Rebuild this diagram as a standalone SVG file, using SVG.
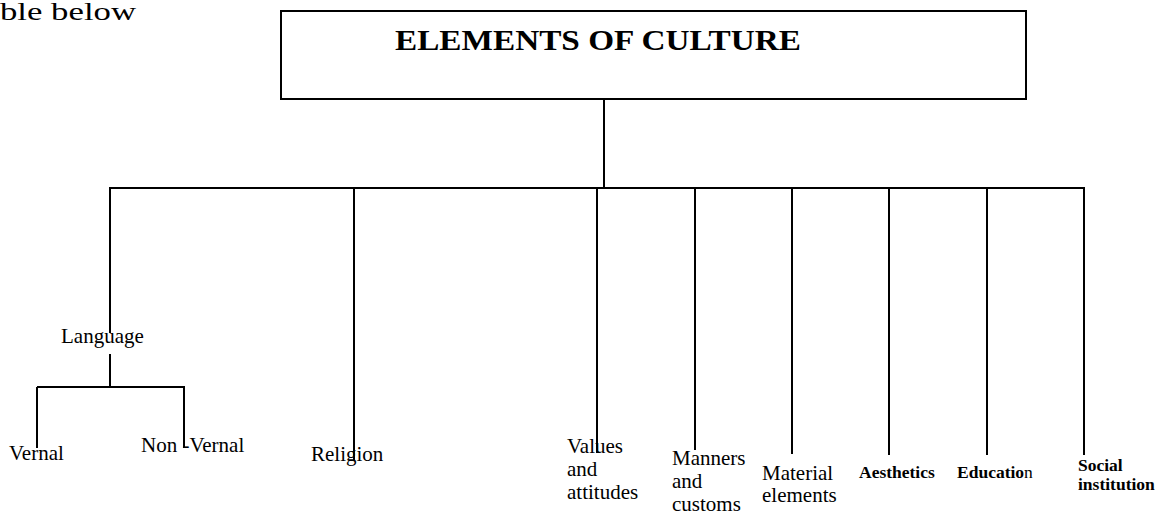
<svg xmlns="http://www.w3.org/2000/svg" width="1170" height="515" viewBox="0 0 1170 515">
<style>
.ln{stroke:#000;stroke-width:2;fill:none}
.t{font-family:"Liberation Serif",serif;font-size:21px;fill:#000}
.b{font-family:"Liberation Serif",serif;font-size:17.5px;font-weight:bold;fill:#000}
</style>
<rect width="1170" height="515" fill="#fff"/>
<text x="0" y="20" font-family="Liberation Serif, serif" font-size="25" textLength="136" lengthAdjust="spacingAndGlyphs">ble below</text>
<g id="root">
<rect x="281" y="11" width="745" height="88" class="ln"/>
<text x="395" y="50" font-family="Liberation Serif, serif" font-size="30" font-weight="bold" textLength="406" lengthAdjust="spacingAndGlyphs">ELEMENTS OF CULTURE</text>
</g>
<g id="connectors">
<path class="ln" d="M604 99V188M109 188H1085M110 188V333M110 354V388M37 387H185M37 387V448M184 387V448M354 188V460M597 188V453M695 188V450M792 188V454M889 188V455M987 188V455M1084 188V455"/>
</g>
<g id="language"><text class="t" x="61" y="343">Language</text></g>
<g id="vernal"><text class="t" x="9" y="460">Vernal</text></g>
<g id="nonvernal"><text class="t" x="141" y="452">Non -Vernal</text></g>
<g id="religion"><text class="t" x="311" y="461">Religion</text></g>
<g id="values"><text class="t" x="567" y="453">Values<tspan x="567" dy="23">and</tspan><tspan x="567" dy="23">attitudes</tspan></text></g>
<g id="manners"><text class="t" x="672" y="465">Manners<tspan x="672" dy="23">and</tspan><tspan x="672" dy="23">customs</tspan></text></g>
<g id="material"><text class="t" x="762" y="480">Material<tspan x="762" dy="22">elements</tspan></text></g>
<g id="aesthetics"><text class="b" x="859" y="478">Aesthetics</text></g>
<g id="education"><text class="b" x="957" y="478">Educatio<tspan font-weight="normal">n</tspan></text></g>
<g id="social"><text class="b" x="1078" y="471">Social<tspan x="1078" dy="19">institution</tspan></text></g>
</svg>
